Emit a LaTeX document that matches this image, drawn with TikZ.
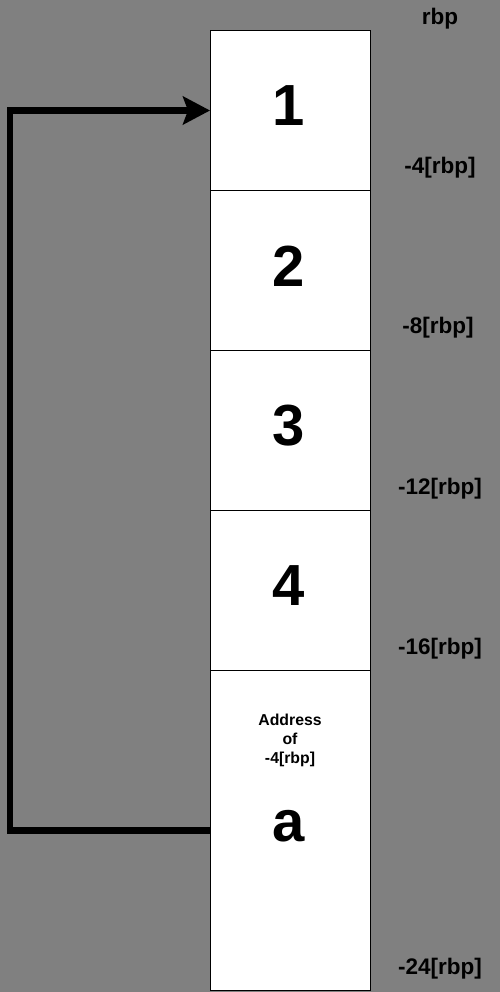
\documentclass[tikz,border=0pt]{standalone}
\usepackage{fontspec}
\setmainfont{Liberation Sans}
\usetikzlibrary{arrows.meta}
\definecolor{bg}{HTML}{808080}
\begin{document}
\begin{tikzpicture}[x=1pt,y=-1pt,
  cell/.style={draw=black,fill=white,line width=1pt,minimum width=160pt,inner sep=0pt,anchor=north west},
  big/.style={font=\bfseries\fontsize{58}{58}\selectfont,inner sep=0pt},
  lbl/.style={font=\bfseries\fontsize{22.5}{22.5}\selectfont,inner sep=0pt},
  small/.style={font=\bfseries\fontsize{15.8}{19}\selectfont,align=center,inner sep=0pt},
  link/.style={line width=6.5pt,-{Stealth[length=27pt,width=28pt,inset=5pt]}}]
\fill[bg] (0,0) rectangle (500,992);
\useasboundingbox (0,0) rectangle (500,992);
\node[cell,minimum height=160pt] (c1) at (210,30) {};
\node[cell,minimum height=160pt] (c2) at (210,190) {};
\node[cell,minimum height=160pt] (c3) at (210,350) {};
\node[cell,minimum height=160pt] (c4) at (210,510) {};
\node[cell,minimum height=320pt] (c5) at (210,670) {};
\node[big] (t1) at (289,106) {1};
\node[big] (t2) at (289,266) {2};
\node[big] (t3) at (289,426) {3};
\node[big] (t4) at (289,586) {4};
\node[big,font=\bfseries\fontsize{58}{58}\selectfont] (ta) at (289,826) {a};
\node[small] (addr) at (290,740) {Address\\of\\-4[rbp]};
\node[lbl] (l0) at (440,19) {rbp};
\node[lbl] (l1) at (440,168) {-4[rbp]};
\node[lbl] (l2) at (438,328) {-8[rbp]};
\node[lbl] (l3) at (440,489) {-12[rbp]};
\node[lbl] (l4) at (440,649) {-16[rbp]};
\node[lbl] (l5) at (440,969) {-24[rbp]};
\draw[link] (c5.west) -- ++(-200,0) |- (c1.west);
\end{tikzpicture}
\end{document}
